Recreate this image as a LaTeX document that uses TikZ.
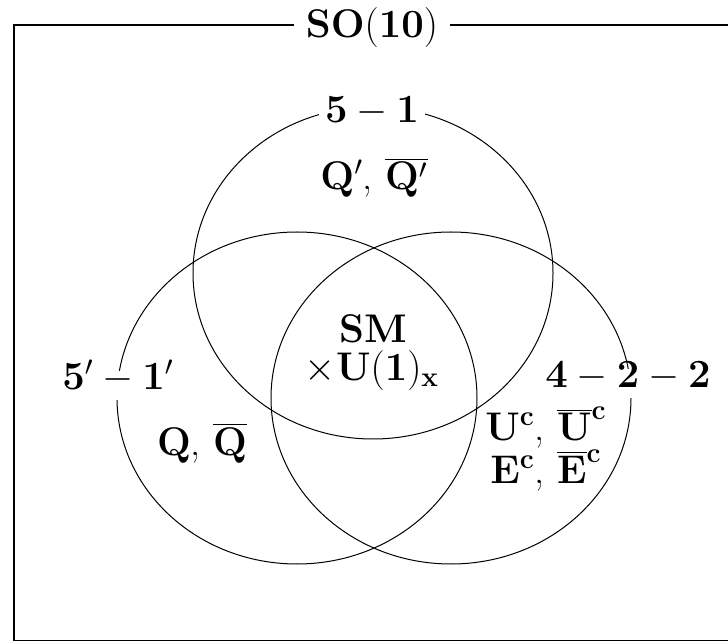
\RequirePackage{fix-cm}
\documentclass[tikz,border=0pt]{standalone}
\begin{document}
\begin{tikzpicture}[x=0.5pt,y=-0.5pt,
  fs/.style={font=\fontsize{20}{18.5}\selectfont},
  lab/.style={fs, fill=white, inner xsep=3pt, inner ysep=2pt, text height=0.75em, text depth=0.3em},
  txt/.style={fs, inner sep=0pt, anchor=base},
  ring/.style={line width=0.5pt},
  frame/.style={line width=0.8pt}]
\useasboundingbox (0,0) rectangle (728,641);
\clip (0,0) rectangle (728,641);
\draw[frame] (760,25) -- (14,25) -- (14,641) -- (760,641);
\draw[ring] (373,273) ellipse [x radius=90pt, y radius=83pt];
\draw[ring] (297,398) ellipse [x radius=90pt, y radius=83pt];
\draw[ring] (451,398) ellipse [x radius=90pt, y radius=83pt];
\node[fs, fill=white, inner sep=6pt] (so) at (372,28) {$\mathbf{SO}(\mathbf{10})$};
\node[lab, anchor=base] (l51) at (372,123) {$\mathbf{5}-\mathbf{1}$};
\node[lab, anchor=base] (l51p) at (118,390) {$\mathbf{5}'-\mathbf{1}'$};
\node[lab, anchor=base] (l422) at (628,388) {$\mathbf{4}-\mathbf{2}-\mathbf{2}$};
\node[txt] (qp) at (374,190) {$\mathbf{Q}'$, $\overline{\mathbf{Q}'}$};
\node[txt] (sm) at (373,343) {$\mathbf{SM}$};
\node[txt] (u1) at (372,381) {$\times\mathbf{U}(\mathbf{1})_{\mathbf{x}}$};
\node[txt] (qq) at (202,455) {$\mathbf{Q}$, $\overline{\mathbf{Q}}$};
\node[fs, inner sep=0pt, align=center] (uec) at (546,449)
  {$\mathbf{U}^{\mathbf{c}}$, $\overline{\mathbf{U}}^{\mathbf{c}}$\\
   $\mathbf{E}^{\mathbf{c}}$, $\overline{\mathbf{E}}^{\mathbf{c}}$};
\end{tikzpicture}
\end{document}
